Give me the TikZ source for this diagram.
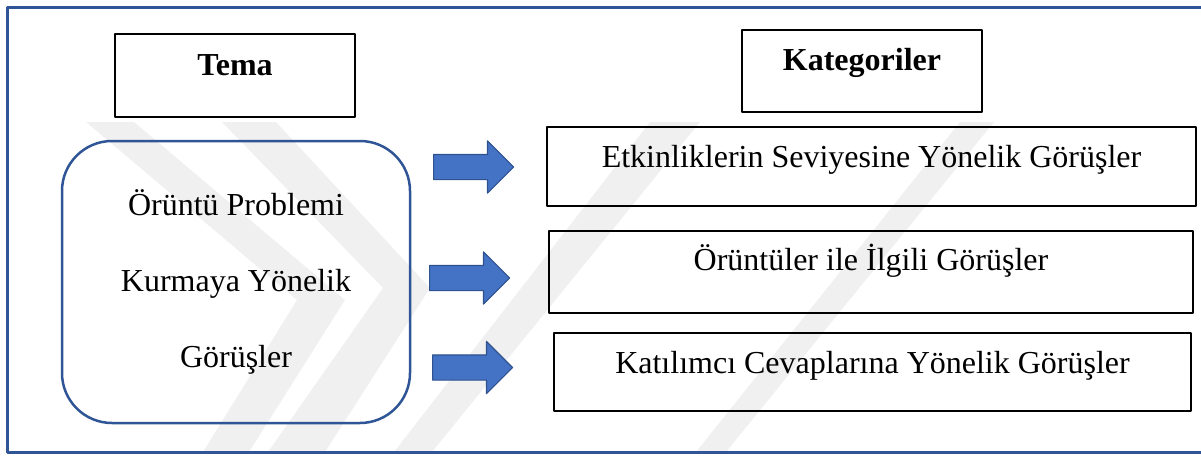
\documentclass[tikz,border=0pt]{standalone}
\usepackage{fontspec}
\setmainfont{Liberation Serif}
\usetikzlibrary{shapes.arrows}

\definecolor{cerceve}{HTML}{2F5597}
\definecolor{okdolgu}{HTML}{4472C4}
\definecolor{okcizgi}{HTML}{2F528F}
\definecolor{filigran}{HTML}{F0F0F0}

\tikzset{
  kutu/.style={draw=black, line width=2.5pt, inner sep=0pt, anchor=base},
  anakutu/.style={draw=cerceve, line width=2.5pt, rounded corners=50pt, align=center},
  ok/.style={single arrow, draw=okcizgi, fill=okdolgu, line width=1.2pt,
    inner xsep=0pt, inner ysep=12pt, minimum height=80pt,
    single arrow head extend=13.5pt, anchor=tail}
}

\begin{document}
\begin{tikzpicture}[x=1pt,y=-1pt,line join=round,font=\fontsize{32}{38}\selectfont]
    \useasboundingbox (0,0) rectangle (1201,456);
    % filigran
    \fill[filigran] (86,122) -- (134,122) -- (345,300) -- (249,452) -- (203,452) -- (297,300) -- cycle;
    \fill[filigran] (222,122) -- (276,122) -- (430,288) -- (325,452) -- (268,452) -- (383,288) -- cycle;
    \fill[filigran] (394,452) -- (432,452) -- (700,122) -- (650,122) -- cycle;
    \fill[filigran] (696,452) -- (726,452) -- (994,122) -- (960,122) -- cycle;
    \draw[cerceve, line width=3pt] (7,7) rectangle (1215,452);

    \node[kutu, minimum width=240pt, text height=41pt, text depth=42pt] (tema) at (235,75) {\textbf{Tema}};
    \node[kutu, minimum width=240pt, text height=40pt, text depth=42pt] (kat) at (862,70) {\textbf{Kategoriler}};
    \node[anakutu, minimum width=348pt, minimum height=282pt, font=\fontsize{32}{76}\selectfont] (ana) at (236,282)
        {Örüntü Problemi\\Kurmaya Yönelik\\Görüşler};

    \foreach \n/\xo/\w/\yy/\hh/\dd/\metin in {
        1/871.5/649/167/40/39/{Etkinliklerin Seviyesine Yönelik Görüşler},
        2/871/644/270/39/43/{Örüntüler ile İlgili Görüşler},
        3/872.5/637/373/40/38/{Katılımcı Cevaplarına Yönelik Görüşler}}
    {\node[kutu, minimum width=\w pt, text height=\hh pt, text depth=\dd pt] (k\n) at (\xo,\yy) {\metin};}

    \foreach \n/\xx/\yy in {1/433/167, 2/429/278, 3/432/367.5}
    {\node[ok] (ok\n) at (\xx,\yy) {};}
\end{tikzpicture}
\end{document}
